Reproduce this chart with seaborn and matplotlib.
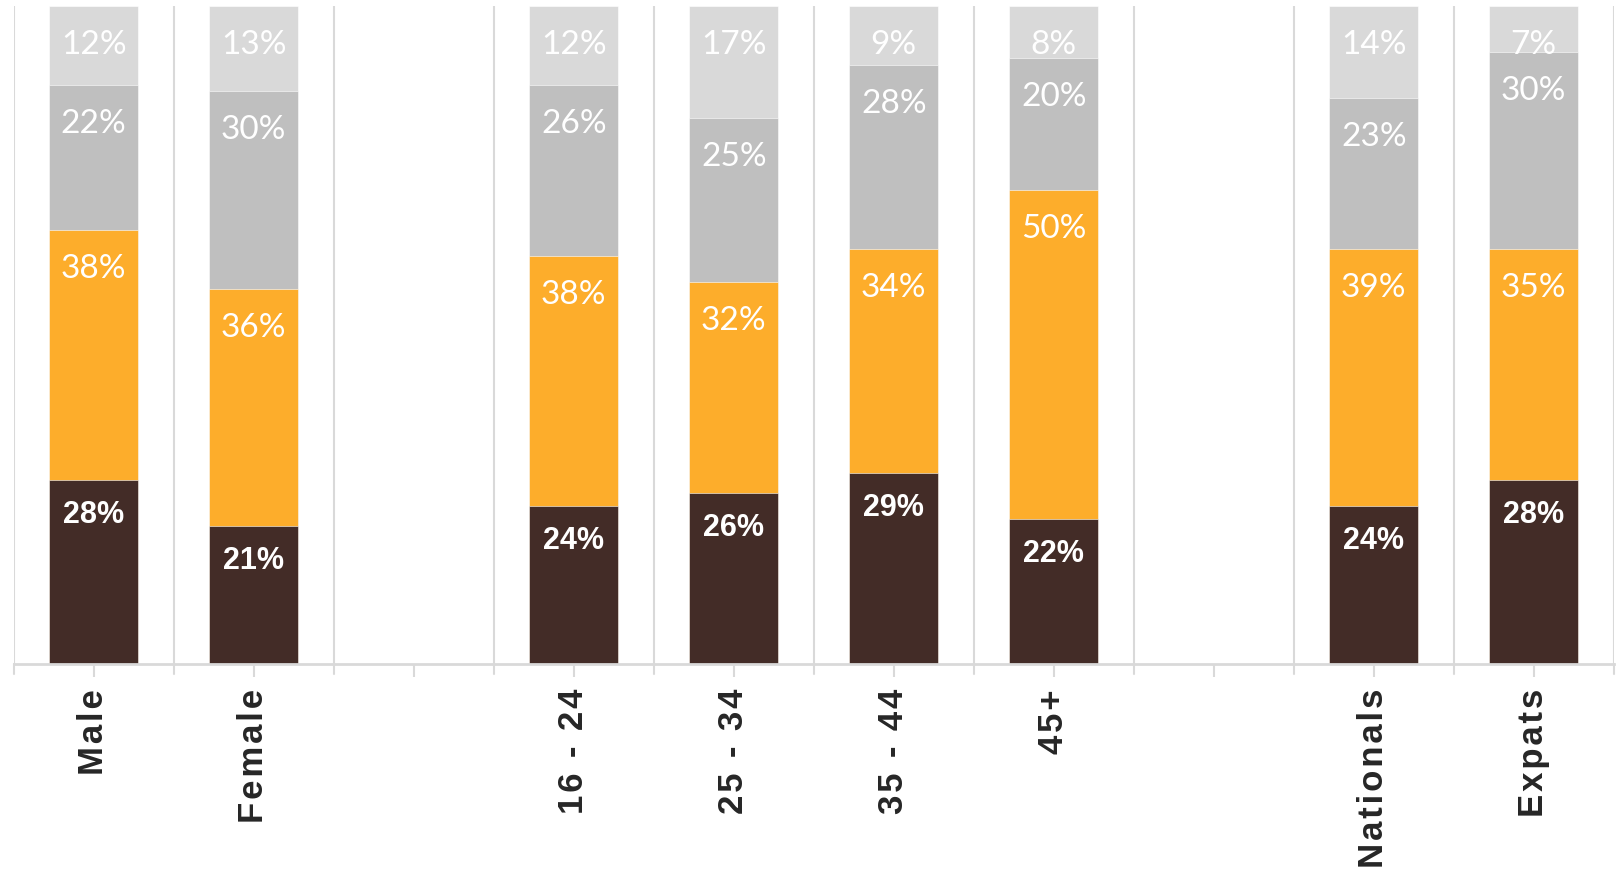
import numpy as np
import pandas as pd
import seaborn as sns
import matplotlib.pyplot as plt
from matplotlib.transforms import offset_copy

# data (bottom to top segments), percentages
groups = ['Male', 'Female', 'gap1', '16 - 24', '25 - 34', '35 - 44', '45+', 'gap2', 'Nationals', 'Expats']
cats = ['Male', 'Female', '16 - 24', '25 - 34', '35 - 44', '45+', 'Nationals', 'Expats']
seg1 = [28, 21, 24, 26, 29, 22, 24, 28]
seg2 = [38, 36, 38, 32, 34, 50, 39, 35]
seg3 = [22, 30, 26, 25, 28, 20, 23, 30]
seg4 = [12, 13, 12, 17, 9, 8, 14, 7]

colors = ['#432C27', '#FDAD2B', '#BFBFBF', '#D9D9D9']
label_style = [dict(color='white', fontsize=22, fontweight='bold', family='Liberation Sans'),
               dict(color='white', fontsize=24, family='Lato'),
               dict(color='white', fontsize=24, family='Lato'),
               dict(color='white', fontsize=24, family='Lato')]
label_offset = [-35, -39, -39, -39]

df = pd.DataFrame({'group': cats, 's1': seg1, 's2': seg2, 's3': seg3, 's4': seg4})
segs = ['s1', 's2', 's3', 's4']
cum = df[segs].cumsum(axis=1)

sns.set_style('white')
fig = plt.figure(figsize=(16.2, 8.73), dpi=100)
ax = fig.add_axes([13.7 / 1620, 1 - 664 / 873, 1600 / 1620, (664 - 5.7) / 873])

# stacked bars by overlaying cumulative totals, top layer first
for i in range(3, -1, -1):
    sns.barplot(x=df['group'], y=cum[segs[i]], order=groups, color=colors[i],
                width=0.556, saturation=1, edgecolor='white', linewidth=0.4, ax=ax, zorder=2)

# labels at inside end of each segment
pos = {g: k for k, g in enumerate(groups)}
for i, s in enumerate(segs):
    trans = offset_copy(ax.transData, fig=fig, x=0, y=label_offset[i], units='dots')
    for g, v, top in zip(df['group'], df[s], cum[s]):
        ax.text(pos[g], top, f'{v}%', transform=trans, ha='center', va='center', **label_style[i])

ax.set_ylim(0, 100)
ax.set_xlim(-0.5, len(groups) - 0.5)
ax.set_ylabel('')
ax.set_xlabel('')
ax.set_yticks([])

# vertical gridlines between categories
for b in np.arange(-0.5, len(groups), 1):
    ax.axvline(b, color='#D9D9D9', linewidth=1.5, zorder=0)
    ax.plot([b, b], [0, -0.0145], transform=ax.get_xaxis_transform(), clip_on=False,
            color='#D9D9D9', linewidth=1.5)

# tick labels with a little letter spacing
def spaced(t):
    return '\u200a'.join(t)

ax.set_xticks(range(len(groups)))
ax.set_xticklabels(['' if g.startswith('gap') else spaced(g) for g in groups], rotation=90,
                   fontsize=25, fontweight='bold', family=['Liberation Sans', 'DejaVu Sans'], va='top')
ax.tick_params(axis='x', length=9, width=1.5, color='#D9D9D9', pad=9, bottom=True)

for side in ['top', 'left', 'right']:
    ax.spines[side].set_visible(False)
ax.spines['bottom'].set_color('#D9D9D9')
ax.spines['bottom'].set_linewidth(2)

plt.savefig('out.png', dpi=100)
